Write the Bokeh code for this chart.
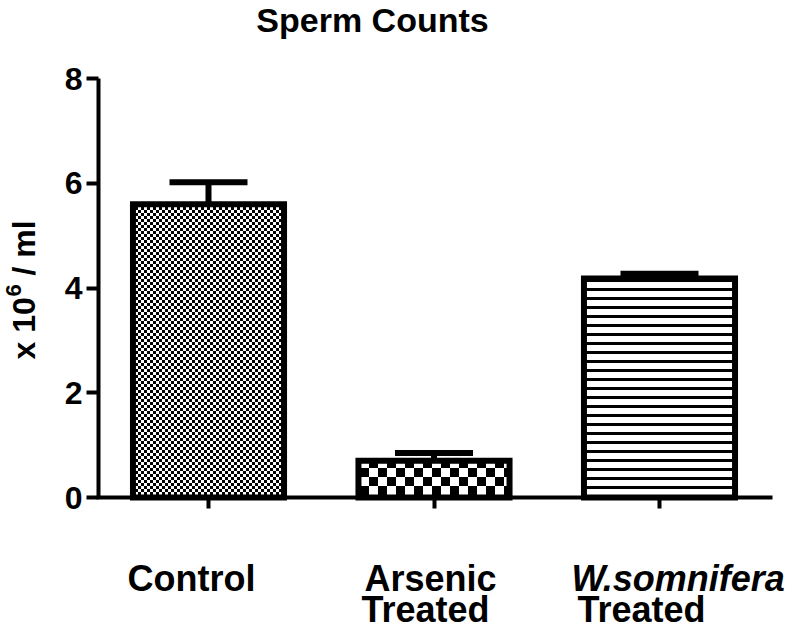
import base64, struct, zlib, math
from bokeh.plotting import figure
from bokeh.models import (Range1d, FixedTicker, Label, Whisker, TeeHead,
                          ColumnDataSource, ImageURLTexture)
from bokeh.embed import file_html
from bokeh.resources import INLINE

# ---- data ----
categories = ["Control", "Arsenic Treated", "W.somnifera Treated"]
means = [5.60, 0.70, 4.18]
sem = [0.42, 0.15, 0.09]
y_ticks = [0, 2, 4, 6, 8]
title_text = "Sperm Counts"


def png_uri(rows):
    h = len(rows)
    w = len(rows[0])
    raw = b"".join(b"\x00" + bytes(r) for r in rows)

    def chunk(tag, data):
        c = struct.pack(">I", len(data)) + tag + data
        return c + struct.pack(">I", zlib.crc32(tag + data) & 0xffffffff)

    png = (b"\x89PNG\r\n\x1a\n"
           + chunk(b"IHDR", struct.pack(">IIBBBBB", w, h, 8, 0, 0, 0, 0))
           + chunk(b"IDAT", zlib.compress(raw))
           + chunk(b"IEND", b""))
    return "data:image/png;base64," + base64.b64encode(png).decode()


def checker(c):
    n = 2 * c
    return [[0 if ((i // c) + (j // c)) % 2 == 0 else 255 for j in range(n)] for i in range(n)]


def hlines(period, thick):
    return [[0 if i < thick else 255 for _ in range(4)] for i in range(period)]


textures = {
    "fine": ImageURLTexture(url=png_uri(checker(3)), repetition="repeat"),
    "coarse": ImageURLTexture(url=png_uri(checker(9)), repetition="repeat"),
    "lines": ImageURLTexture(url=png_uri(hlines(9, 3)), repetition="repeat"),
}
patterns = ["fine", "coarse", "lines"]

# ---- layout (pixel geometry of the page) ----
W, H = 790, 630
PXU_X = 225.5          # px per category step
X0 = 208               # page x of first category
PXU_Y = 52.375         # px per y unit
Y0 = 498               # page y of value 0
OFF_Y = 1
SHIFT = 12             # label baseline correction (px)


def dx(px):
    return (px - X0) / PXU_X


def dy(py):
    return (Y0 - py) / PXU_Y


xs = list(range(len(categories)))
src = ColumnDataSource(dict(x=xs, top=means, upper=[m + s for m, s in zip(means, sem)],
                            pat=patterns))

p = figure(frame_width=W, frame_height=H, output_backend="svg", toolbar_location=None,
           x_range=Range1d(dx(0), dx(W)), y_range=Range1d(dy(H + OFF_Y), dy(OFF_Y)),
           min_border=0, x_axis_location="below", y_axis_location="left")
p.outline_line_color = None
p.xgrid.visible = False
p.ygrid.visible = False
p.background_fill_color = "white"
p.border_fill_color = "white"

p.vbar(x="x", top="top", bottom=0, width=0.67, source=src, fill_color="white",
       line_color="black", line_width=6, line_join="miter",
       hatch_pattern="pat", hatch_extra=textures, hatch_color="black")

w = Whisker(source=src, base="x", upper="upper", lower="top", line_width=6,
            line_color="black", upper_head=TeeHead(size=78, line_width=6, line_color="black"),
            lower_head=None, level="overlay")
p.add_layout(w)

font = "Liberation Sans"
yax = p.yaxis[0]
yax.fixed_location = dx(98)
yax.bounds = (0, 8)
yax.ticker = FixedTicker(ticks=y_ticks)
yax.axis_line_width = 4
yax.major_tick_line_width = 4
yax.major_tick_out = 12
yax.major_tick_in = 0
yax.minor_tick_line_color = None
yax.major_label_text_font = font
yax.major_label_text_font_style = "bold"
yax.major_label_text_font_size = "32px"
yax.major_label_text_color = "black"
yax.major_label_standoff = 4

xax = p.xaxis[0]
xax.fixed_location = 0
xax.bounds = (dx(96), dx(772))
xax.ticker = FixedTicker(ticks=xs)
xax.axis_line_width = 4
xax.major_tick_line_width = 4
xax.major_tick_out = 11
xax.major_tick_in = 0
xax.minor_tick_line_color = None
xax.major_label_text_font_size = "0px"
xax.major_label_text_color = None

lab = dict(text_font=font, text_font_style="bold", text_font_size="36px",
           text_color="black", text_align="left", text_baseline="alphabetic")

# title
p.add_layout(Label(x=dx(372), y=dy(32 - SHIFT), text=title_text,
                   **dict(lab, text_align="center", text_font_size="34px")))
# category labels
p.add_layout(Label(x=dx(127), y=dy(591 - SHIFT), text="Control", **lab))
p.add_layout(Label(x=dx(364), y=dy(591 - SHIFT), text="Arsenic", **lab))
p.add_layout(Label(x=dx(361), y=dy(622 - SHIFT), text="Treated", **lab))
p.add_layout(Label(x=dx(571), y=dy(591 - SHIFT), text="W.somnifera",
                   **dict(lab, text_font_style="bold italic")))
p.add_layout(Label(x=dx(577), y=dy(622 - SHIFT), text="Treated", **lab))

# y axis title: x 10^6 / ml (rotated)
rot = dict(lab, angle=math.pi / 2, text_baseline="middle", text_font_size="32px")
p.add_layout(Label(x=dx(23), y=dy(360), text="x 10", **rot))
p.add_layout(Label(x=dx(13), y=dy(297), text="6", **dict(rot, text_font_size="22px")))
p.add_layout(Label(x=dx(23), y=dy(276), text="/ ml", **rot))

open("out.html", "w").write(file_html(p, INLINE))
